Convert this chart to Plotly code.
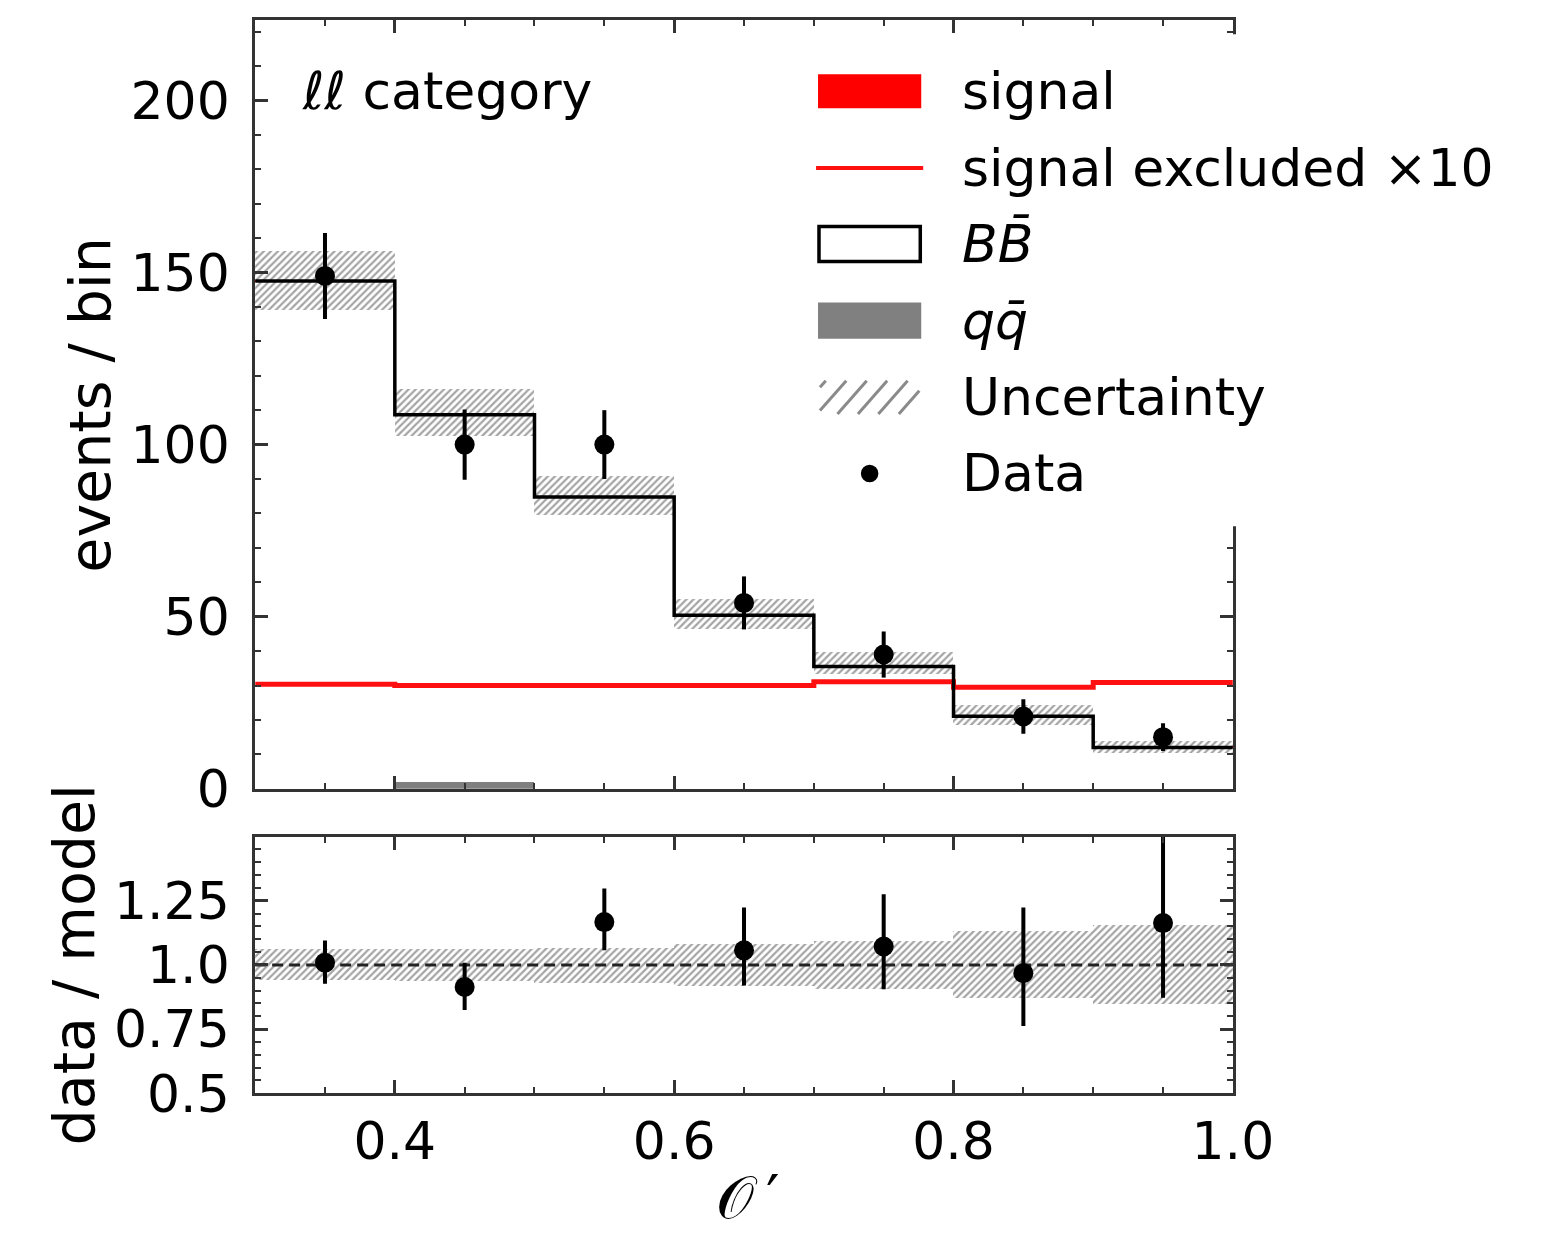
import plotly.graph_objects as go

# ---------------- data ----------------
edges = [0.3, 0.4, 0.5, 0.6, 0.7, 0.8, 0.9, 1.0]
centers = [0.35, 0.45, 0.55, 0.65, 0.75, 0.85, 0.95]
bb = [147.5, 108.7, 84.8, 50.4, 35.5, 21.1, 12.0]
qq = [0.0, 2.0, 0.0, 0.0, 0.0, 0.0, 0.0]
signal = [0.4, 0.4, 0.4, 0.4, 0.4, 0.4, 0.4]
signal_excl_x10 = [30.4, 30.0, 30.0, 30.0, 31.1, 29.5, 30.9]
unc_lo = [139.3, 102.7, 79.7, 46.7, 33.5, 18.8, 10.4]
unc_hi = [156.3, 116.3, 91.1, 55.2, 39.9, 24.4, 13.9]
data = [149, 100, 100, 54, 39, 21, 15]
data_err = [12.5, 10.2, 10.0, 7.7, 6.7, 5.0, 4.0]

ratio = [1.009, 0.914, 1.167, 1.057, 1.072, 0.968, 1.163]
ratio_err_up = [0.086, 0.095, 0.131, 0.167, 0.203, 0.256, 0.337]
ratio_err_dn = [0.082, 0.089, 0.110, 0.137, 0.167, 0.206, 0.291]
ratio_unc_lo = [0.943, 0.940, 0.933, 0.920, 0.908, 0.872, 0.850]
ratio_unc_hi = [1.062, 1.062, 1.066, 1.085, 1.095, 1.133, 1.157]
ratio_ref = [1.0, 1.0]

x_ticks = [0.4, 0.6, 0.8, 1.0]
x_ticklabels = ["0.4", "0.6", "0.8", "1.0"]
y1_ticks = [0, 50, 100, 150, 200]
y2_ticks = [0.5, 0.75, 1.0, 1.25, 1.5]
y2_ticklabels = ["0.5", "0.75", "1.0", "1.25", ""]

legend_labels = ["signal", "signal excluded ×10", "<i>BB\u0304</i>", "<i>qq\u0304</i>",
                 "Uncertainty", "Data"]

# ---------------- geometry ----------------
W, H = 1567, 1260
def px(x):
    return x / W
def py(y):
    return 1 - y / H

AX = "#333333"
FONT = "DejaVu Sans"
HATCH = dict(shape="/", fgcolor="#4a4a4a", bgcolor="white", size=5, solidity=0.45)

fig = go.Figure()

step_y = lambda v: list(v) + [v[-1]]
widths = [edges[i + 1] - edges[i] for i in range(len(centers))]

# uncertainty (top)
fig.add_trace(go.Bar(
    x=centers, y=[h - l for h, l in zip(unc_hi, unc_lo)], base=unc_lo, width=widths,
    marker=dict(color="white", line=dict(width=0), pattern=HATCH),
    xaxis="x", yaxis="y", showlegend=False, hoverinfo="skip"))
# qq
fig.add_trace(go.Bar(
    x=centers, y=qq, width=widths, marker=dict(color="#808080", line=dict(width=0)),
    xaxis="x", yaxis="y", showlegend=False))
# signal (stacked on BB)
fig.add_trace(go.Bar(
    x=centers, y=signal, base=bb, width=widths, marker=dict(color="#ff0000", line=dict(width=0)),
    xaxis="x", yaxis="y", showlegend=False))
# signal excluded x10
fig.add_trace(go.Scatter(
    x=edges, y=step_y(signal_excl_x10), mode="lines", line=dict(color="#ff1010", width=5, shape="hv"),
    xaxis="x", yaxis="y", showlegend=False))
# BB
fig.add_trace(go.Scatter(
    x=edges, y=step_y(bb), mode="lines", line=dict(color="black", width=3.5, shape="hv"),
    xaxis="x", yaxis="y", showlegend=False))
# data
fig.add_trace(go.Scatter(
    x=centers, y=data, mode="markers", marker=dict(color="black", size=20),
    error_y=dict(type="data", array=data_err, color="black", thickness=4, width=0),
    xaxis="x", yaxis="y", showlegend=False))

# ratio panel
fig.add_trace(go.Bar(
    x=centers, y=[h - l for h, l in zip(ratio_unc_hi, ratio_unc_lo)], base=ratio_unc_lo, width=widths,
    marker=dict(color="white", line=dict(width=0), pattern=HATCH),
    xaxis="x2", yaxis="y2", showlegend=False, hoverinfo="skip"))
fig.add_trace(go.Scatter(
    x=[edges[0], edges[-1]], y=ratio_ref, mode="lines",
    line=dict(color="#222222", width=3, dash="11px,6px"),
    xaxis="x2", yaxis="y2", showlegend=False))
fig.add_trace(go.Scatter(
    x=centers, y=ratio, mode="markers", marker=dict(color="black", size=20),
    error_y=dict(type="data", symmetric=False, array=ratio_err_up, arrayminus=ratio_err_dn,
                 color="black", thickness=4, width=0),
    xaxis="x2", yaxis="y2", showlegend=False))

xdom = [px(262), px(1266)]
common_x = dict(range=[edges[0], edges[-1]], domain=xdom, showline=True, linecolor=AX, linewidth=3,
                mirror="ticks", ticks="inside", ticklen=13, tickwidth=2.5, tickcolor=AX,
                tickmode="array", tickvals=x_ticks, ticktext=x_ticklabels,
                minor=dict(tickmode="array",
                           tickvals=[0.35, 0.45, 0.5, 0.55, 0.65, 0.7, 0.75, 0.85, 0.9, 0.95],
                           ticks="inside", ticklen=6, tickwidth=2, tickcolor=AX),
                showgrid=False, zeroline=False, tickfont=dict(size=52, color="black", family=FONT))

fig.update_layout(
    width=W, height=H, margin=dict(l=0, r=0, t=0, b=0),
    paper_bgcolor="white", plot_bgcolor="white", barmode="overlay", bargap=0,
    font=dict(family=FONT, color="black"),
    xaxis=dict(common_x, anchor="y", showticklabels=False),
    xaxis2=dict(common_x, anchor="y2", showticklabels=True, ticklabelstandoff=0),
    yaxis=dict(range=[0, 223.5], domain=[py(808), py(20)], anchor="x", showline=True, linecolor=AX,
               linewidth=3, mirror="ticks", ticks="inside", ticklen=13, tickwidth=2.5, tickcolor=AX,
               tickmode="array", tickvals=y1_ticks,
               minor=dict(tickmode="array", tickvals=[v for v in range(10, 221, 10) if v % 50],
                          ticks="inside", ticklen=6, tickwidth=2, tickcolor=AX),
               showgrid=False, zeroline=False, ticklabelstandoff=12,
               tickfont=dict(size=52, color="black", family=FONT)),
    yaxis2=dict(range=[0.5, 1.5], domain=[py(1120), py(857)], anchor="x2", showline=True, linecolor=AX,
                linewidth=3, mirror="ticks", ticks="inside", ticklen=13, tickwidth=2.5, tickcolor=AX,
                tickmode="array", tickvals=y2_ticks, ticktext=y2_ticklabels,
                minor=dict(tickmode="array",
                           tickvals=[0.55, 0.6, 0.65, 0.7, 0.8, 0.85, 0.9, 0.95, 1.05, 1.1, 1.15, 1.2,
                                     1.3, 1.35, 1.4, 1.45],
                           ticks="inside", ticklen=6, tickwidth=2, tickcolor=AX),
                showgrid=False, zeroline=False, ticklabelstandoff=12,
                tickfont=dict(size=52, color="black", family=FONT)),
)

# ---------------- legend (drawn manually) ----------------
shapes = []
# white legend box hides part of the right spine, as in the reference
shapes.append(dict(type="rect", xref="paper", yref="paper", x0=px(825), x1=px(1560), y0=py(539), y1=py(35),
                   fillcolor="white", line=dict(width=0), layer="above"))
rows = [93, 172, 250, 329, 407, 485]
sx0, sx1 = 840, 946
shapes.append(dict(type="rect", xref="paper", yref="paper", x0=px(sx0), x1=px(sx1), y0=py(111), y1=py(76),
                   fillcolor="#ff0000", line=dict(width=0), layer="above"))
shapes.append(dict(type="line", xref="paper", yref="paper", x0=px(838), x1=px(948), y0=py(172), y1=py(172),
                   line=dict(color="#ff1010", width=4), layer="above"))
shapes.append(dict(type="rect", xref="paper", yref="paper", x0=px(sx0 + 1), x1=px(sx1 - 1), y0=py(268), y1=py(232),
                   fillcolor="white", line=dict(color="black", width=3.5), layer="above"))
shapes.append(dict(type="rect", xref="paper", yref="paper", x0=px(sx0), x1=px(sx1), y0=py(347), y1=py(310),
                   fillcolor="#808080", line=dict(width=0), layer="above"))
# hatch icon
hy0, hy1 = 424, 390
for k in range(7):
    a = 818 + 21 * k
    xa, ya, xb, yb = a, hy0, a + 30, hy1
    def yat(x):
        return ya + (yb - ya) * (x - xa) / (xb - xa)
    cx0, cx1 = max(xa, sx0 + 2), min(xb, sx1 - 2)
    if cx1 - cx0 < 2:
        continue
    shapes.append(dict(type="line", xref="paper", yref="paper", x0=px(cx0), y0=py(yat(cx0)),
                       x1=px(cx1), y1=py(yat(cx1)), line=dict(color="#8a8a8a", width=3), layer="above"))
shapes.append(dict(type="circle", xref="paper", yref="paper", x0=px(884), x1=px(902), y0=py(494), y1=py(476),
                   fillcolor="black", line=dict(width=0), layer="above"))

annotations = []
for lab, ry in zip(legend_labels, rows):
    annotations.append(dict(text=lab, xref="paper", yref="paper", x=px(986), y=py(ry), xanchor="left",
                            yanchor="middle", showarrow=False, font=dict(size=52, color="black", family=FONT)))
annotations.append(dict(text="<i>ℓℓ</i> category", xref="paper", yref="paper", x=px(308), y=py(93),
                        xanchor="left", yanchor="middle", showarrow=False,
                        font=dict(size=52, color="black", family=FONT)))
annotations.append(dict(text="events / bin", xref="paper", yref="paper", x=px(93), y=py(415),
                        xanchor="center", yanchor="middle", textangle=-90, showarrow=False,
                        font=dict(size=57, color="black", family=FONT)))
annotations.append(dict(text="data / model", xref="paper", yref="paper", x=px(76), y=py(989),
                        xanchor="center", yanchor="middle", textangle=-90, showarrow=False,
                        font=dict(size=57, color="black", family=FONT)))
annotations.append(dict(text="𝒪\u2009′", xref="paper", yref="paper", x=px(768), y=py(1226),
                        xanchor="center", yanchor="middle", showarrow=False,
                        font=dict(size=60, color="black", family="DejaVu Serif, DejaVu Sans")))

fig.update_layout(shapes=shapes, annotations=annotations)
fig.write_html("out.html")
